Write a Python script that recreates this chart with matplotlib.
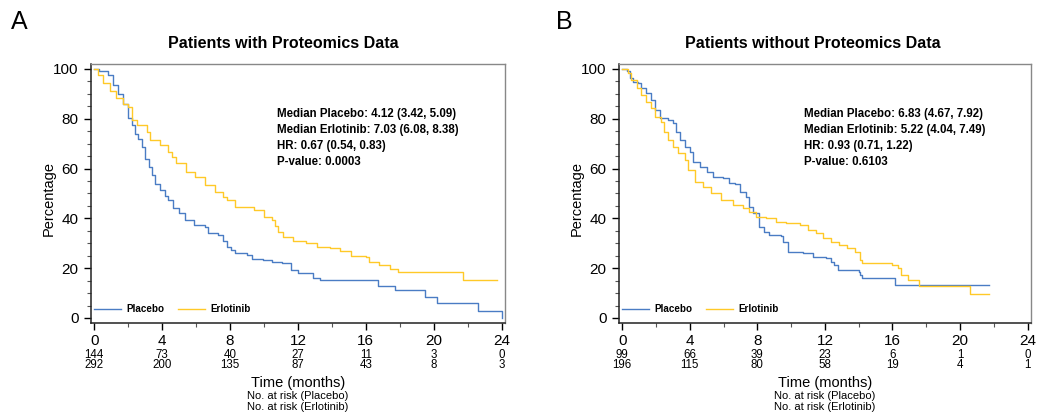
"""Kaplan-Meier curves: patients with / without proteomics data (placebo vs erlotinib)."""

import matplotlib
matplotlib.use("Agg")
import matplotlib.pyplot as plt
from matplotlib.ticker import MultipleLocator

plt.rcParams["font.family"] = ["Liberation Sans", "DejaVu Sans"]

BLUE = "#4A7CC4"
GOLD = "#FFC928"

# --- Panel A: patients with proteomics data (step knots, months / %) ---
a_placebo_t = [0, 0.3, 0.8, 1.1, 1.4, 1.7, 2.0, 2.2, 2.4, 2.6, 2.8, 3.0, 3.2, 3.4, 3.6, 3.9,
               4.15, 4.35, 4.65, 5.0, 5.35, 5.9, 6.5, 6.7, 7.3, 7.6, 7.8, 8.05, 8.3, 9.0, 9.3,
               9.95, 10.5, 11.05, 11.6, 12.0, 12.9, 13.3, 16.7, 17.7, 19.5, 20.2, 22.6, 24.0]
a_placebo_s = [100, 99.3, 97.6, 93.5, 90, 86, 80.5, 77.5, 74, 72, 68.5, 64, 60.5, 57.5, 54, 51.5,
               49, 47.4, 44.2, 42, 39.4, 37.3, 36.7, 34, 33.3, 31, 28.6, 27.2, 26, 25.3, 23.6,
               23.3, 22.4, 22, 19.3, 18, 16.2, 15.3, 12.9, 11.2, 8.6, 5.9, 3.0, 0]
a_erlot_t = [0, 0.24, 0.53, 0.92, 1.3, 1.7, 2.0, 2.2, 2.5, 3.08, 3.27, 3.86, 4.35, 4.6, 4.84,
             5.43, 5.92, 6.5, 7.1, 7.6, 7.8, 8.3, 9.4, 10.0, 10.45, 10.65, 10.85, 11.1, 11.7,
             12.5, 13.1, 13.9, 14.5, 15.15, 16.0, 16.2, 16.8, 17.4, 17.9, 21.7, 23.7]
a_erlot_s = [100, 97.6, 94.3, 91, 88.2, 86, 84.9, 79.5, 77.5, 74.8, 71.5, 69.5, 66.8, 64.5, 62.1,
             58.8, 56.8, 53.4, 50.7, 48.7, 47.4, 44.7, 43.4, 40.7, 39.4, 37, 34.7, 32.7, 31.1,
             30, 28.6, 28, 27, 24.9, 24.6, 22.6, 21.3, 19.5, 18.3, 15.3, 15.3]

# --- Panel B: patients without proteomics data ---
b_placebo_t = [0, 0.26, 0.45, 0.65, 0.94, 1.14, 1.44, 1.73, 1.93, 2.22, 2.7, 3.0, 3.2, 3.4, 3.7,
               4.0, 4.2, 4.6, 5.0, 5.37, 5.96, 6.35, 6.65, 6.95, 7.34, 7.5, 7.73, 8.12, 8.4, 8.7,
               9.4, 9.5, 9.8, 10.7, 11.3, 12.06, 12.35, 12.55, 12.75, 14.0, 14.1, 14.2, 16.15, 21.7]
b_placebo_s = [100, 99, 96.3, 94.9, 94.3, 92.2, 90.2, 87.6, 83.5, 80.2, 79.5, 78.2, 74.8, 71.5, 68.8,
               66.8, 62.8, 60.8, 58.8, 56.8, 56.1, 54.3, 54, 50.7, 48.7, 44.7, 42, 36.7, 34.7, 33.3,
               32.9, 30.6, 26.6, 26, 24.6, 24, 22.6, 21.3, 19.3, 18.6, 17.3, 15.9, 13.3, 13.3]
b_erlot_t = [0, 0.35, 0.55, 0.85, 1.14, 1.44, 1.73, 1.93, 2.32, 2.5, 2.7, 3.0, 3.3, 3.7, 3.9, 4.3,
             4.78, 5.27, 5.86, 6.55, 7.14, 7.5, 7.9, 8.5, 9.1, 9.7, 10.5, 11.0, 11.5, 11.86, 12.35,
             12.85, 13.3, 13.8, 14.1, 14.2, 15.6, 16.0, 16.3, 16.5, 16.9, 17.6, 20.6, 21.7]
b_erlot_s = [100, 98.3, 95.6, 92.2, 89.6, 86.9, 84.2, 80.8, 78.8, 74.8, 71.5, 68.8, 66.1, 63.5,
             59.4, 54.7, 52.7, 50.1, 47.4, 45.4, 44, 42.7, 40.7, 40, 38.7, 38, 37.3, 35.3, 34, 32,
             30.6, 29.3, 28, 26.6, 23.3, 22.2, 22.2, 21.3, 20, 17.3, 15.3, 12.9, 9.5, 9.5]

risk_times = [0, 4, 8, 12, 16, 20, 24]
a_risk_placebo = [144, 73, 40, 27, 11, 3, 0]
a_risk_erlot = [292, 200, 135, 87, 43, 8, 3]
b_risk_placebo = [99, 66, 39, 23, 6, 1, 0]
b_risk_erlot = [196, 115, 80, 58, 19, 4, 1]

a_stats = ["Median Placebo: 4.12 (3.42, 5.09)", "Median Erlotinib: 7.03 (6.08, 8.38)",
           "HR: 0.67 (0.54, 0.83)", "P-value: 0.0003"]
b_stats = ["Median Placebo: 6.83 (4.67, 7.92)", "Median Erlotinib: 5.22 (4.04, 7.49)",
           "HR: 0.93 (0.71, 1.22)", "P-value: 0.6103"]


def km_panel(ax, pt, ps, et, es, risk_p, risk_e, stats):
    ax.step(pt, ps, where="post", color=BLUE, lw=1.0, label="Placebo")
    ax.step(et, es, where="post", color=GOLD, lw=1.0, label="Erlotinib")
    ax.set_xlim(-0.19, 24.2)
    ax.set_ylim(-2, 102)
    ax.xaxis.set_major_locator(MultipleLocator(4))
    ax.xaxis.set_minor_locator(MultipleLocator(2))
    ax.yaxis.set_major_locator(MultipleLocator(20))
    ax.yaxis.set_minor_locator(MultipleLocator(5))
    ax.tick_params(which="major", length=5, width=1, labelsize=11, pad=3)
    ax.tick_params(axis="y", which="major", pad=4)
    ax.tick_params(which="minor", length=3, width=0.8, color="#555555")
    for side in ("left", "bottom"):
        ax.spines[side].set_color("#222222")
        ax.spines[side].set_linewidth(1.1)
    for side in ("top", "right"):
        ax.spines[side].set_color("#888888")
        ax.spines[side].set_linewidth(1.0)

    ax.set_ylabel("Percentage", fontsize=10.5)
    ax.yaxis.set_label_coords(-0.086, 0.48)

    # number-at-risk table under the tick labels
    tr = ax.get_xaxis_transform()
    for t, n1, n2 in zip(risk_times, risk_p, risk_e):
        ax.text(t, -0.122, str(n1), transform=tr, ha="center", va="center", fontsize=8.3)
        ax.text(t, -0.161, str(n2), transform=tr, ha="center", va="center", fontsize=8.3)
    ax.text(0.5, -0.232, "Time (months)", transform=ax.transAxes, ha="center", va="center",
            fontsize=10.5)
    ax.text(0.5, -0.280, "No. at risk (Placebo)", transform=ax.transAxes, ha="center",
            va="center", fontsize=8.0)
    ax.text(0.5, -0.325, "No. at risk (Erlotinib)", transform=ax.transAxes, ha="center",
            va="center", fontsize=8.0)

    for i, line in enumerate(stats):
        ax.text(0.449, 0.807 - i * 0.062, line, transform=ax.transAxes, ha="left",
                va="center", fontsize=8.3, fontweight="bold")

    ax.legend(loc="center left", bbox_to_anchor=(0.0, 0.054), ncol=2, frameon=False,
              borderaxespad=0, borderpad=0.3, handlelength=2.75, handletextpad=0.5,
              columnspacing=1.45, prop={"size": 7.1, "weight": "bold"})


fig = plt.figure(figsize=(10.45, 4.2), dpi=100)
ax_a = fig.add_axes([0.0871, 0.231, 0.3962, 0.6167])
ax_b = fig.add_axes([0.5923, 0.231, 0.3943, 0.6167])

km_panel(ax_a, a_placebo_t, a_placebo_s, a_erlot_t, a_erlot_s,
         a_risk_placebo, a_risk_erlot, a_stats)
km_panel(ax_b, b_placebo_t, b_placebo_s, b_erlot_t, b_erlot_s,
         b_risk_placebo, b_risk_erlot, b_stats)

fig.text(283.5 / 1045, 1 - 44 / 420, "Patients with Proteomics Data", ha="center", va="center",
         fontsize=11.5, fontweight="bold")
fig.text(812.5 / 1045, 1 - 44 / 420, "Patients without Proteomics Data", ha="center",
         va="center", fontsize=11.5, fontweight="bold")
fig.text(19.5 / 1045, 1 - 22 / 420, "A", ha="center", va="center", fontsize=18)
fig.text(564.5 / 1045, 1 - 22 / 420, "B", ha="center", va="center", fontsize=18)

fig.savefig("out.png", dpi=100)
